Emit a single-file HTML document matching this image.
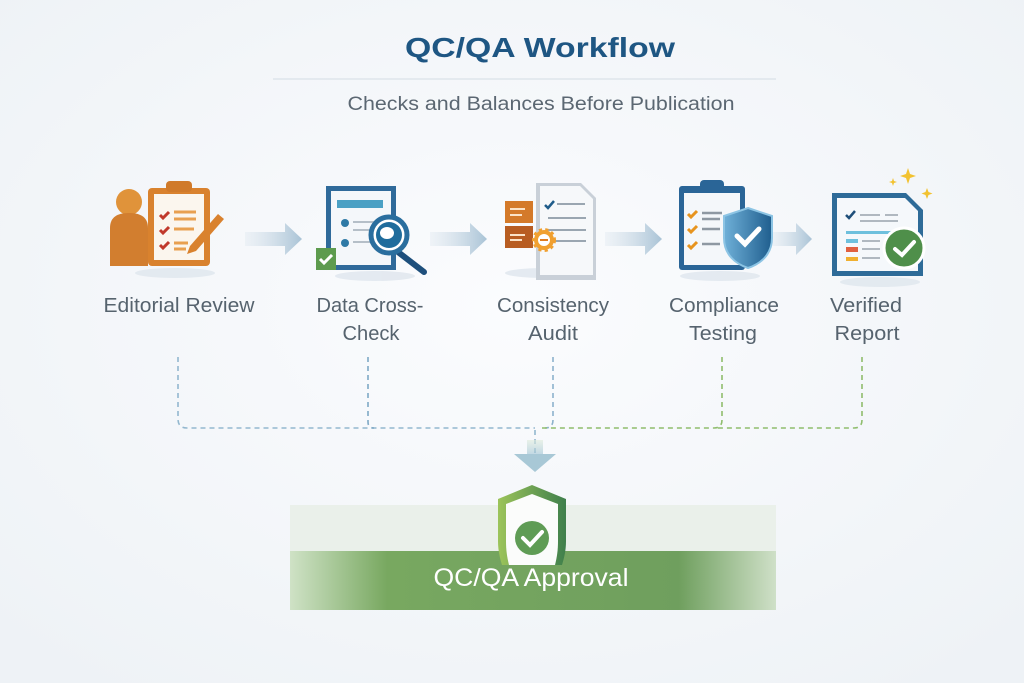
<!DOCTYPE html>
<html><head><meta charset="utf-8"><style>
html,body{margin:0;padding:0;background:#f5f7fa;}
svg{display:block;font-family:"Liberation Sans",sans-serif;}
</style></head><body>
<svg width="1024" height="683" viewBox="0 0 1024 683" xmlns="http://www.w3.org/2000/svg">
<defs>
<radialGradient id="bg" cx="50%" cy="45%" r="70%"><stop offset="0" stop-color="#fbfcfe"/><stop offset="1" stop-color="#eef2f6"/></radialGradient>
<linearGradient id="arr" x1="0" x2="1"><stop offset="0" stop-color="#d8e3ec" stop-opacity="0.3"/><stop offset="1" stop-color="#a9c3d6"/></linearGradient>
<linearGradient id="band" x1="0" x2="1"><stop offset="0" stop-color="#cfe2c6"/><stop offset="0.2" stop-color="#78a860"/><stop offset="0.8" stop-color="#6f9f5e"/><stop offset="1" stop-color="#cfe0c8"/></linearGradient>
<linearGradient id="shield" x1="0" x2="1"><stop offset="0" stop-color="#9cc45a"/><stop offset="1" stop-color="#3f7f4c"/></linearGradient>
<linearGradient id="down" x1="0" y1="0" x2="0" y2="1"><stop offset="0" stop-color="#e0ecdc"/><stop offset="1" stop-color="#9fc3d3"/></linearGradient>
<linearGradient id="bshield" x1="0" x2="1"><stop offset="0" stop-color="#6fb0d8"/><stop offset="1" stop-color="#1f5e8e"/></linearGradient>
</defs>
<rect width="1024" height="683" fill="url(#bg)"/>
<text x="540" y="57" text-anchor="middle" font-size="28" font-weight="bold" fill="#1e5683" textLength="270" lengthAdjust="spacingAndGlyphs">QC/QA Workflow</text>
<line x1="273" y1="79" x2="776" y2="79" stroke="#d3dce4" stroke-width="1"/>
<text x="541" y="110" text-anchor="middle" font-size="19" fill="#5b6772" textLength="387" lengthAdjust="spacingAndGlyphs">Checks and Balances Before Publication</text>

<g fill="url(#arr)">
<path d="M245 232h40v-9l17 16-17 16v-9h-40z"/>
<path d="M430 232h40v-9l17 16-17 16v-9h-40z"/>
<path d="M605 232h40v-9l17 16-17 16v-9h-40z"/>
<path d="M772 232h24v-9l16 16-16 16v-9h-24z"/>
</g>

<g fill="#dfe6ee" opacity="0.8">
<ellipse cx="175" cy="273" rx="40" ry="5"/><ellipse cx="375" cy="276" rx="40" ry="5"/><ellipse cx="545" cy="273" rx="40" ry="5"/><ellipse cx="720" cy="276" rx="40" ry="5"/><ellipse cx="880" cy="282" rx="40" ry="5"/>
</g>

<g>
<rect x="148" y="188" width="62" height="78" rx="4" fill="#d9822e"/>
<rect x="154" y="194" width="50" height="66" fill="#fbf6ee"/>
<rect x="166" y="181" width="26" height="11" rx="4" fill="#d07a2a"/>
<circle cx="129" cy="202" r="13" fill="#e0933a"/>
<path d="M110 266v-38c0-12 9-15 19-15s19 3 19 15v38z" fill="#d27e2f"/>
<g stroke="#c0392b" stroke-width="3" fill="none"><path d="M160 215l3 3 6-6"/><path d="M160 230l3 3 6-6"/><path d="M160 245l3 3 6-6"/></g>
<g stroke="#e8a050" stroke-width="3"><line x1="174" y1="212" x2="196" y2="212"/><line x1="174" y1="219" x2="196" y2="219"/><line x1="174" y1="229" x2="194" y2="229"/><line x1="174" y1="243" x2="188" y2="243"/><line x1="174" y1="249" x2="186" y2="249"/></g>
<path d="M190 246l28-32 6 5-28 32-9 3z" fill="#d9822e"/>
</g>

<g>
<rect x="326" y="186" width="70" height="84" fill="#2f6a9a"/>
<rect x="331" y="191" width="60" height="74" fill="#f4f7fa"/>
<rect x="337" y="200" width="46" height="8" fill="#4aa0c4"/>
<circle cx="345" cy="223" r="4" fill="#2f7aa6"/><circle cx="345" cy="243" r="4" fill="#2f7aa6"/>
<g stroke="#b5bfc8" stroke-width="2"><line x1="353" y1="222" x2="378" y2="222"/><line x1="353" y1="230" x2="378" y2="230"/><line x1="353" y1="242" x2="378" y2="242"/></g>
<line x1="398" y1="252" x2="424" y2="272" stroke="#1e4f7c" stroke-width="6" stroke-linecap="round"/>
<circle cx="389" cy="235" r="18" fill="#fff" stroke="#2a6e9e" stroke-width="5"/>
<circle cx="389" cy="235" r="13" fill="#1f6c9c"/>
<ellipse cx="387" cy="233" rx="7" ry="6" fill="#fff"/>
<rect x="316" y="248" width="20" height="22" fill="#5d9b4e"/>
<path d="M320 259l4 4 8-8" stroke="#fff" stroke-width="3" fill="none"/>
</g>

<g>
<path d="M536 183h45l15 15v82h-60z" fill="#c9d0d8"/>
<path d="M540 186h40l13 13v76h-53z" fill="#f6f8fa"/>
<path d="M545 205l3 3 6-7" stroke="#1f5c8a" stroke-width="2.5" fill="none"/>
<g stroke="#9aa6b1" stroke-width="2"><line x1="557" y1="204" x2="585" y2="204"/><line x1="548" y1="218" x2="586" y2="218"/><line x1="548" y1="230" x2="586" y2="230"/><line x1="548" y1="241" x2="586" y2="241"/></g>
<rect x="505" y="201" width="28" height="22" fill="#d47a2a"/>
<rect x="505" y="226" width="28" height="22" fill="#b85d22"/>
<g stroke="#fbe3c8" stroke-width="2"><line x1="510" y1="209" x2="525" y2="209"/><line x1="510" y1="215" x2="522" y2="215"/><line x1="510" y1="235" x2="525" y2="235"/><line x1="510" y1="240" x2="522" y2="240"/></g>
<circle cx="544" cy="240" r="10" fill="#f0a030" stroke="#f0a030" stroke-width="4" stroke-dasharray="3 3"/>
<circle cx="544" cy="240" r="7" fill="#fff" stroke="#f0a030" stroke-width="2"/>
<line x1="540" y1="240" x2="548" y2="240" stroke="#e07d20" stroke-width="2"/>
</g>

<g>
<rect x="679" y="186" width="66" height="84" rx="3" fill="#2a6597"/>
<rect x="684" y="193" width="56" height="72" fill="#f4f7fa"/>
<rect x="700" y="180" width="24" height="12" rx="4" fill="#2a6597"/>
<g stroke="#e7941e" stroke-width="3" fill="none"><path d="M688 214l3 3 6-6"/><path d="M688 229l3 3 6-6"/><path d="M688 245l3 3 6-6"/></g>
<g stroke="#8e98a2" stroke-width="2.5"><line x1="702" y1="213" x2="722" y2="213"/><line x1="702" y1="219" x2="720" y2="219"/><line x1="702" y1="229" x2="720" y2="229"/><line x1="702" y1="244" x2="720" y2="244"/></g>
<path d="M748 208l24 8v22c0 17-12 26-24 30-12-4-24-13-24-30v-22z" fill="url(#bshield)" stroke="#8cc4e4" stroke-width="2"/>
<path d="M737 236l8 8 14-15" stroke="#fff" stroke-width="5" fill="none" stroke-linecap="round"/>
</g>

<g>
<path d="M832 193h74l17 17v66h-91z" fill="#2e6b98"/>
<path d="M837 198h68l13 13v60h-81z" fill="#f5f8fb"/>
<path d="M846 215l3 3 6-7" stroke="#1f4f7a" stroke-width="2.5" fill="none"/>
<g stroke="#b0b8c0" stroke-width="2"><line x1="860" y1="215" x2="880" y2="215"/><line x1="885" y1="215" x2="898" y2="215"/><line x1="860" y1="221" x2="898" y2="221"/></g>
<rect x="846" y="231" width="48" height="3" fill="#6ec0dd"/>
<rect x="846" y="239" width="12" height="4" fill="#6ec0dd"/>
<rect x="846" y="247" width="12" height="5" fill="#e06040"/>
<rect x="846" y="257" width="12" height="4" fill="#f0b030"/>
<g stroke="#b0b8c0" stroke-width="2"><line x1="862" y1="241" x2="880" y2="241"/><line x1="862" y1="249" x2="880" y2="249"/><line x1="862" y1="258" x2="880" y2="258"/></g>
<circle cx="904" cy="248" r="20" fill="#4f8f4a" stroke="#fff" stroke-width="3"/>
<path d="M895 249l7 6 12-13" stroke="#fff" stroke-width="4" fill="none" stroke-linecap="round"/>
<g fill="#f2c230"><path d="M908 168l2 6 6 2-6 2-2 6-2-6-6-2 6-2z"/><path d="M927 188l1.5 4 4 1.5-4 1.5-1.5 4-1.5-4-4-1.5 4-1.5z"/><path d="M893 178l1 3 3 1-3 1-1 3-1-3-3-1 3-1z"/></g>
</g>

<g font-size="20" fill="#56636e" text-anchor="middle">
<text x="179" y="312" textLength="151" lengthAdjust="spacingAndGlyphs">Editorial Review</text>
<text x="370" y="312" textLength="107" lengthAdjust="spacingAndGlyphs">Data Cross-</text>
<text x="371" y="340" textLength="57" lengthAdjust="spacingAndGlyphs">Check</text>
<text x="553" y="312" textLength="112" lengthAdjust="spacingAndGlyphs">Consistency</text>
<text x="553" y="340" textLength="50" lengthAdjust="spacingAndGlyphs">Audit</text>
<text x="724" y="312" textLength="110" lengthAdjust="spacingAndGlyphs">Compliance</text>
<text x="723" y="340" textLength="68" lengthAdjust="spacingAndGlyphs">Testing</text>
<text x="866" y="312" textLength="72" lengthAdjust="spacingAndGlyphs">Verified</text>
<text x="867" y="340" textLength="65" lengthAdjust="spacingAndGlyphs">Report</text>
</g>

<g fill="none" stroke-width="1.6" stroke-dasharray="5 4">
<path d="M178 357v62q0 9 9 9h348" stroke="#93b8cf"/>
<path d="M368 357v65q0 6 6 6" stroke="#7fa9c6"/>
<path d="M553 357v63q0 8-8 8" stroke="#8cb2cc"/>
<path d="M722 357v63q0 8-8 8h-172" stroke="#8fbd6d"/>
<path d="M862 357v63q0 8-8 8h-140" stroke="#8fbd6d"/>
<path d="M535 430v25" stroke="#93b8cf"/>
</g>
<rect x="527" y="440" width="16" height="14" fill="url(#down)" opacity="0.6"/>
<path d="M514 454h42l-21 18z" fill="#a8c8d6"/>

<rect x="290" y="505" width="486" height="46" fill="#eaf0ea"/>
<rect x="290" y="551" width="486" height="59" fill="url(#band)"/>
<path d="M532 485l34 14v42c0 10-2 17-4 24h-60c-2-7-4-14-4-24v-42z" fill="url(#shield)"/>
<path d="M532 494l26 10v37c0 9-1 16-3 24h-46c-2-8-3-15-3-24v-37z" fill="#fbfcfb"/>
<circle cx="532" cy="538" r="17" fill="#5f9c55"/>
<path d="M523 538l7 7 12-13" stroke="#fff" stroke-width="4" fill="none" stroke-linecap="round"/>
<text x="531" y="586" text-anchor="middle" font-size="25" fill="#ffffff" textLength="195" lengthAdjust="spacingAndGlyphs">QC/QA Approval</text>
</svg>
</body></html>
